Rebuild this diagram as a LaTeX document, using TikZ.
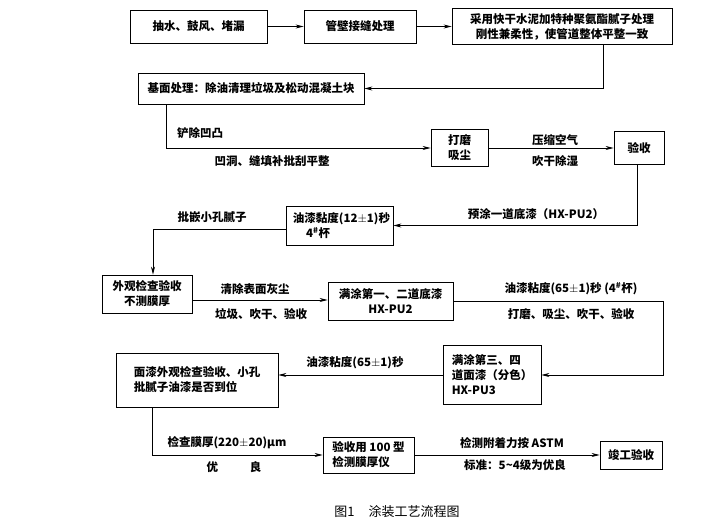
\documentclass[tikz,border=0pt]{standalone}
\usepackage{fontspec}
\setmainfont{Noto Sans CJK SC}
\usetikzlibrary{arrows.meta}
\newcommand{\pmsign}{\ensuremath{\pm}}
\begin{document}
\begin{tikzpicture}[x=1pt,y=-1pt,
      font=\fontsize{11.5}{15}\selectfont\bfseries,
      box/.style={draw,line width=0.8pt,inner sep=0pt,align=center},
      lbox/.style={box,align=left},
      lab/.style={inner sep=1pt},
      flow/.style={line width=0.7pt,-{Stealth[length=8pt,width=4pt]}}]
      \useasboundingbox (0,0) rectangle (715,525);
      \node[box,minimum width=137pt,minimum height=33pt] (drain) at (198.5,26.5) {抽水、鼓风、堵漏};
      \node[box,minimum width=112pt,minimum height=33pt] (seam) at (360,26.5) {管壁接缝处理};
      \node[box,minimum width=220pt,minimum height=36pt] (putty) at (562,26.5)
        {采用快干水泥加特种聚氨酯腻子处理\\刚性兼柔性，使管道整体平整一致};
      \node[box,minimum width=226pt,minimum height=31pt] (base) at (251,88.5)
        {基面处理：除油清理垃圾及松动混凝土块};
      \node[box,minimum width=57pt,minimum height=37pt] (grind) at (459.5,148) {打磨\\吸尘};
      \node[box,minimum width=50pt,minimum height=33pt] (check) at (639,148) {验收};
      \node[lbox,minimum width=107pt,minimum height=39pt] (visc) at (339.5,225.5)
        {\hspace*{4pt}油漆黏度(12\pmsign1)秒\\\hspace*{1.5em}4\textsuperscript{\#}杯};
      \node[box,minimum width=90pt,minimum height=38pt] (look) at (147,294) {外观检查验收\\不测膜厚};
      \node[box,minimum width=125pt,minimum height=38pt] (prime) at (390.5,301) {满涂第一、二道底漆\\HX-PU2};
      \node[lbox,minimum width=98pt,minimum height=59pt] (coat) at (492,375)
        {满涂第三、四\\道面漆（分色）\\HX-PU3};
      \node[lbox,minimum width=162pt,minimum height=54pt] (topcheck) at (197,380)
        {面漆外观检查验收、小孔\\批腻子油漆是否到位};
      \node[lbox,minimum width=91pt,minimum height=36pt] (gauge) at (368.5,455) {验收用 100 型\\检测膜厚仪};
      \node[box,minimum width=62pt,minimum height=28pt] (finish) at (631,455) {竣工验收};

      \node[lab,anchor=west] (cut) at (176,133) {铲除凹凸};
      \node[lab] (fill) at (272,161) {凹洞、缝填补批刮平整};
      \node[lab] (air) at (555,140) {压缩空气};
      \node[lab] (dry) at (555,161) {吹干除湿};
      \node[lab] (pre) at (536,214) {预涂一道底漆（HX-PU2）};
      \node[lab] (hole) at (212,217) {批嵌小孔腻子};
      \node[lab] (dust) at (255,289) {清除表面灰尘};
      \node[lab] (trash) at (261,314) {垃圾、吹干、验收};
      \node[lab] (visc65) at (571,289) {油漆粘度(65\pmsign1)秒 (4\textsuperscript{\#}杯)};
      \node[lab] (sand) at (571,314) {打磨、吸尘、吹干、验收};
      \node[lab] (visc65b) at (355,363) {油漆粘度(65\pmsign1)秒};
      \node[lab] (thick) at (227,443) {检查膜厚(220\pmsign20)μm};
      \node[lab] (good) at (234,467) {优\hspace{32pt}良};
      \node[lab] (astm) at (512,443) {检测附着力按 ASTM};
      \node[lab] (grade) at (515,465) {标准：5\textasciitilde 4级为优良};
      \node[font=\fontsize{13}{15}\selectfont] (cap) at (397,512) {图1\hspace{14pt}涂装工艺流程图};

      \draw[flow] (drain) -- (seam);
      \draw[flow] (seam) -- (putty);
      \draw[flow] ([xshift=41pt]putty.south) |- (base);
      \draw[flow] ([xshift=29pt]base.south west) |- (grind);
      \draw[flow] (grind) -- (check);
      \draw[flow] ([xshift=-2pt]check.south) |- (visc);
      \draw[flow] ([yshift=-4pt]visc.west) -| ([xshift=6pt]look.north);
      \draw[flow] ([yshift=-6pt]look.east) -- ([yshift=-6pt]look.east -| prime.west);
      \draw[flow] (prime.east) -| ([xshift=122pt]coat.east) -- (coat.east);
      \draw[flow] (coat.west) -- (coat.west -| topcheck.east);
      \draw[flow] ([xshift=37pt]topcheck.south west) |- (gauge);
      \draw[flow] (gauge) -- (finish);
\end{tikzpicture}
\end{document}
